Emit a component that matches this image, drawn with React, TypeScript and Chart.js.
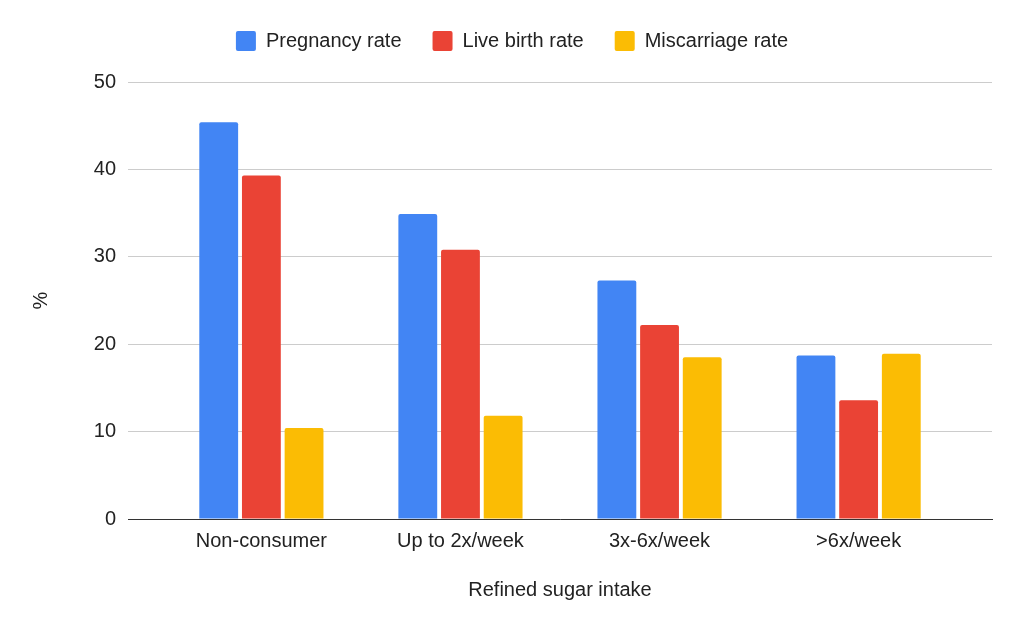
import React, { useEffect, useRef } from 'react';
import Chart from 'chart.js/auto';

const categories = ['Non-consumer', 'Up to 2x/week', '3x-6x/week', '>6x/week'];
const pregnancyRate = [45.4, 34.9, 27.3, 18.7];
const liveBirthRate = [39.3, 30.8, 22.2, 13.6];
const miscarriageRate = [10.4, 11.8, 18.5, 18.9];
const yTicks = [0, 10, 20, 30, 40, 50];

const FONT = "'Liberation Sans', Arial, sans-serif";
const TEXT = '#222222';

const toPoints = (values: number[]) => values.map((v, i) => ({ x: i, y: v }));

const App = () => {
    const canvasRef = useRef<HTMLCanvasElement>(null);

    useEffect(() => {
        document.body.style.margin = '0';
        let chart: Chart | null = null;
        const ctx = canvasRef.current?.getContext('2d');

        if (ctx) {
            chart = new Chart(ctx, {
                type: 'bar',
                data: {
                    datasets: [
                        { label: 'Pregnancy rate', data: toPoints(pregnancyRate), backgroundColor: '#4285F4' },
                        { label: 'Live birth rate', data: toPoints(liveBirthRate), backgroundColor: '#EA4335' },
                        { label: 'Miscarriage rate', data: toPoints(miscarriageRate), backgroundColor: '#FBBC04' },
                    ],
                },
                options: {
                    responsive: false,
                    animation: false,
                    layout: { padding: { left: 32, right: 32, top: 0, bottom: 0 } },
                    datasets: {
                        bar: {
                            categoryPercentage: 0.643,
                            barPercentage: 0.91,
                            borderRadius: 2,
                            borderWidth: 0,
                        },
                    },
                    plugins: {
                        tooltip: { enabled: false },
                        legend: {
                            position: 'top',
                            labels: {
                                font: { family: FONT, size: 20 },
                                color: TEXT,
                                boxWidth: 20,
                                boxHeight: 20,
                                padding: 31,
                                useBorderRadius: true,
                                borderRadius: 2,
                            },
                        },
                        // empty spacer below the legend (lower weight than the legend)
                        subtitle: {
                            display: true,
                            text: '',
                            position: 'top',
                            weight: 500,
                            font: { size: 1, lineHeight: 1 },
                            padding: { top: 20, bottom: 0 },
                        },
                    },
                    scales: {
                        x: {
                            type: 'linear',
                            min: -0.67,
                            max: 3.67,
                            bounds: 'data',
                            offset: false,
                            afterBuildTicks: (s: any) => {
                                s.ticks = categories.map((_, i) => ({ value: i }));
                            },
                            afterFit: (s: any) => {
                                s.height = 114;
                            },
                            grid: { display: false, drawTicks: false },
                            border: { display: true, color: '#333333', width: 1 },
                            ticks: {
                                autoSkip: false,
                                maxRotation: 0,
                                padding: 10,
                                color: TEXT,
                                font: { family: FONT, size: 20 },
                                callback: (v: any) => categories[v as number] ?? '',
                            },
                            title: {
                                display: true,
                                text: 'Refined sugar intake',
                                color: TEXT,
                                font: { family: FONT, size: 20 },
                                padding: { top: 0, bottom: 31 },
                            },
                        },
                        y: {
                            min: yTicks[0],
                            max: yTicks[yTicks.length - 1],
                            afterBuildTicks: (s: any) => {
                                s.ticks = yTicks.map((v) => ({ value: v }));
                            },
                            afterFit: (s: any) => {
                                s.width = 96;
                            },
                            grid: { color: '#cccccc', lineWidth: 1, drawTicks: false },
                            border: { display: false },
                            ticks: {
                                padding: 12,
                                color: TEXT,
                                font: { family: FONT, size: 20 },
                            },
                            title: {
                                display: true,
                                text: '%',
                                color: TEXT,
                                font: { family: FONT, size: 20 },
                                padding: { top: -3, bottom: 0 },
                            },
                        },
                    },
                },
            });
        }

        return () => {
            if (chart) chart.destroy();
        };
    }, []);

    return (
        <div style={{ width: 1024, height: 633 }}>
            <canvas ref={canvasRef} width={1024} height={633}></canvas>
        </div>
    );
};

export default App;
